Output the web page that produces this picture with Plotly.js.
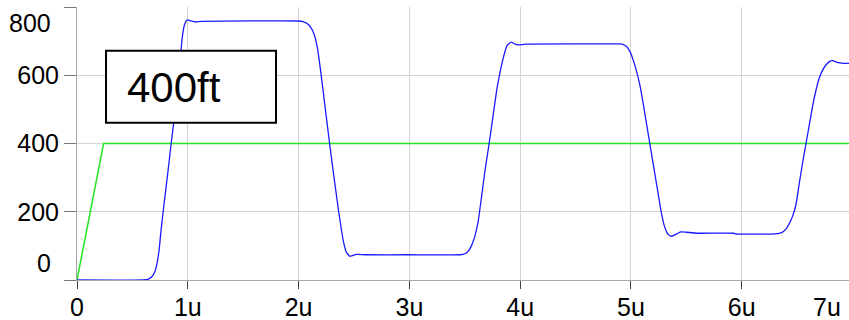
<!DOCTYPE html>
<html>
<head>
<meta charset="utf-8">
<script src="https://cdn.plot.ly/plotly-3.0.1.min.js"></script>
<style>
  html, body { margin: 0; padding: 0; background: #ffffff; }
  #chart { width: 849px; height: 320px; }
</style>
</head>
<body>
<div id="chart"></div>
<script>
// ---- data (time in microseconds) ----
const blueTime = [
  0, 0.60, 0.64, 0.67, 0.70, 0.72, 0.74, 0.76, 0.79, 0.82, 0.85, 0.88, 0.91, 0.93, 0.95, 0.97, 0.99, 1.00, 1.03, 1.07, 1.12,
  2.00, 2.04, 2.08, 2.11, 2.14, 2.17, 2.20, 2.24, 2.28, 2.32, 2.36, 2.39, 2.41, 2.43, 2.46, 2.49, 2.52, 2.60, 3.00, 3.46,
  3.50, 3.53, 3.56, 3.59, 3.62, 3.65, 3.68, 3.72, 3.76, 3.79, 3.82, 3.85, 3.88, 3.90, 3.92, 3.95, 3.98, 4.05, 4.90,
  4.92, 4.96, 4.99, 5.02, 5.05, 5.08, 5.11, 5.14, 5.17, 5.21, 5.24, 5.27, 5.30, 5.33, 5.36, 5.40, 5.45, 5.50, 5.60, 5.93, 5.94, 6.30,
  6.36, 6.40, 6.43, 6.46, 6.49, 6.52, 6.55, 6.58, 6.61, 6.64, 6.67, 6.70, 6.73, 6.76, 6.79, 6.82, 6.86, 6.92, 6.97
];
const blueValue = [
  0, 0, 2, 8, 22, 45, 85, 150, 235, 315, 400, 480, 570, 640, 710, 748, 761, 762, 759, 756, 758,
  759, 757, 751, 740, 720, 680, 610, 505, 400, 300, 205, 140, 105, 82, 70, 72, 75, 74, 74, 74,
  77, 84, 100, 127, 170, 240, 315, 400, 492, 560, 612, 654, 686, 693, 697, 692, 689, 691, 692,
  691, 684, 670, 645, 612, 572, 518, 459, 400, 322, 264, 205, 160, 136, 128, 133, 141, 140, 137, 137, 135, 135,
  139, 150, 166, 188, 222, 285, 345, 400, 455, 510, 556, 592, 615, 630, 640, 643, 638, 635, 635
];
const greenTime = [0, 0.24, 6.97];
const greenValue = [0, 400, 400];

const xTickVals = [0, 1, 2, 3, 4, 5, 6];
const xTickText = ['0', '1u', '2u', '3u', '4u', '5u', '6u'];
const yTickVals = [0, 200, 400, 600, 800];
const yTickText = ['', '200', '400', '600', ''];
const labelText = '400ft';

const FONT = 'Liberation Sans, Arial, Helvetica, sans-serif';

const traces = [
  {
    x: greenTime, y: greenValue, type: 'scatter', mode: 'lines',
    line: { color: '#22e622', width: 1.5 }, hoverinfo: 'skip'
  },
  {
    x: blueTime, y: blueValue, type: 'scatter', mode: 'lines',
    line: { color: '#1a1aff', width: 1.3, shape: 'spline', smoothing: 0.4 }, hoverinfo: 'skip'
  }
];

const layout = {
  width: 849, height: 320,
  margin: { l: 77, r: 0, t: 7, b: 40, pad: 0 },
  paper_bgcolor: '#ffffff', plot_bgcolor: '#ffffff',
  showlegend: false,
  font: { family: FONT, size: 25, color: '#000000' },
  xaxis: {
    range: [0, 6.968], tickmode: 'array', tickvals: xTickVals, ticktext: xTickText,
    showgrid: true, gridcolor: '#d4d4d4', gridwidth: 1,
    showline: true, linecolor: '#a8a8a8', linewidth: 1,
    ticks: 'outside', ticklen: 8, tickcolor: '#444444', tickwidth: 1,
    ticklabelstandoff: -3,
    tickfont: { family: FONT, size: 25, color: '#000000' },
    zeroline: false, fixedrange: true
  },
  yaxis: {
    range: [0, 800], tickmode: 'array', tickvals: yTickVals, ticktext: yTickText,
    showgrid: true, gridcolor: '#d4d4d4', gridwidth: 1,
    showline: true, linecolor: '#a8a8a8', linewidth: 1,
    ticks: 'outside', ticklen: 12, tickcolor: '#777777', tickwidth: 1,
    tickfont: { family: FONT, size: 25, color: '#000000' },
    zeroline: false, fixedrange: true
  },
  shapes: [
    {
      type: 'rect', xref: 'paper', yref: 'paper', layer: 'above',
      x0: 0.0376, x1: 0.2578, y0: 0.576, y1: 0.840,
      line: { color: '#000000', width: 2 }, fillcolor: '#ffffff'
    }
  ],
  annotations: [
    {
      text: labelText, xref: 'paper', yref: 'paper', x: 0.0625, y: 0.705,
      xanchor: 'left', yanchor: 'middle', showarrow: false,
      font: { family: FONT, size: 42, color: '#000000' }
    },
    {
      text: '0', xref: 'paper', yref: 'y', x: -0.0311, y: 0,
      xanchor: 'right', yanchor: 'middle', yshift: 17, showarrow: false,
      font: { family: FONT, size: 25, color: '#000000' }
    },
    {
      text: '800', xref: 'paper', yref: 'y', x: -0.0311, y: 800,
      xanchor: 'right', yanchor: 'middle', yshift: -16, showarrow: false,
      font: { family: FONT, size: 25, color: '#000000' }
    },
    {
      text: '7u', xref: 'paper', yref: 'paper', x: 0.9715, y: 0,
      xanchor: 'center', yanchor: 'top', yshift: -11, showarrow: false,
      font: { family: FONT, size: 25, color: '#000000' }
    }
  ]
};

Plotly.newPlot('chart', traces, layout, { displayModeBar: false, staticPlot: true });
</script>
</body>
</html>
